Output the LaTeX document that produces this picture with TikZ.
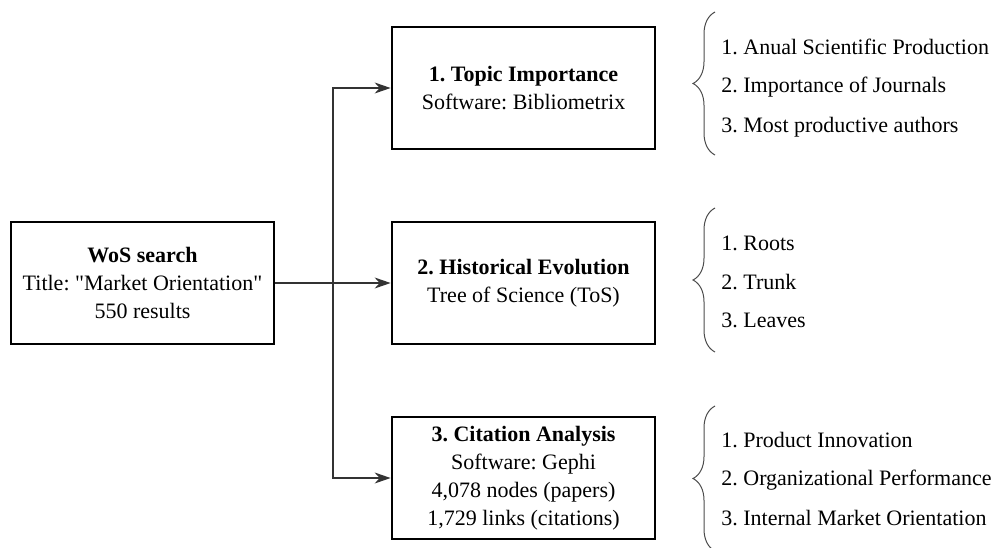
\documentclass[tikz,border=0pt]{standalone}
\usepackage{fontspec}
\setmainfont{Liberation Serif}[Ligatures=TeXOff]
\usetikzlibrary{arrows.meta,decorations.pathreplacing}
\frenchspacing

\begin{document}
\begin{tikzpicture}[x=0.5pt,y=-0.5pt,
    font=\fontsize{11}{14}\selectfont,
    stepbox/.style={draw,line width=1.4pt,minimum width=131.5pt,minimum height=61pt,align=center,inner sep=2pt},
    arr/.style={-{Stealth[length=8pt,width=5.5pt]},draw=black!80,line width=0.6pt},
    curly/.style={decorate,decoration={brace,amplitude=11pt},draw=black!70,line width=0.5pt},
    item/.style={anchor=west,inner sep=0pt}]
  \useasboundingbox (0,0) rectangle (999,547);

  \node[stepbox] (wos) at (142.5,283) {\textbf{WoS search}\\Title: "Market Orientation"\\550 results};
  \node[stepbox] (topic) at (523.5,88) {\textbf{1. Topic Importance}\\Software: Bibliometrix};
  \node[stepbox] (hist) at (523.5,283) {\textbf{2. Historical Evolution}\\Tree of Science (ToS)};
  \node[stepbox] (cite) at (523.5,478) {\textbf{3. Citation Analysis}\\Software: Gephi\\4,078 nodes (papers)\\1,729 links (citations)};

  \coordinate (hub) at (333,283);
  \draw[arr] (wos.east) -- (hist.west);
  \draw[arr] (hub) |- (topic.west);
  \draw[arr] (hub) |- (cite.west);

  % topic importance results
  \draw[curly] (715,155) -- (715,12);
  \node[item] (t1) at (721,47) {1. Anual Scientific Production};
  \node[item] (t2) at (721,87) {2. Importance of Journals};
  \node[item] (t3) at (721,127) {3. Most productive authors};

  % historical evolution results
  \draw[curly] (715,352) -- (715,208);
  \node[item] (h1) at (721,243) {1. Roots};
  \node[item] (h2) at (721,282) {2. Trunk};
  \node[item] (h3) at (721,320) {3. Leaves};

  % citation analysis results
  \draw[curly] (715,551) -- (715,406);
  \node[item] (c1) at (721,440) {1. Product Innovation};
  \node[item] (c2) at (721,480) {2. Organizational Performance};
  \node[item] (c3) at (721,518) {3. Internal Market Orientation};
\end{tikzpicture}
\end{document}
